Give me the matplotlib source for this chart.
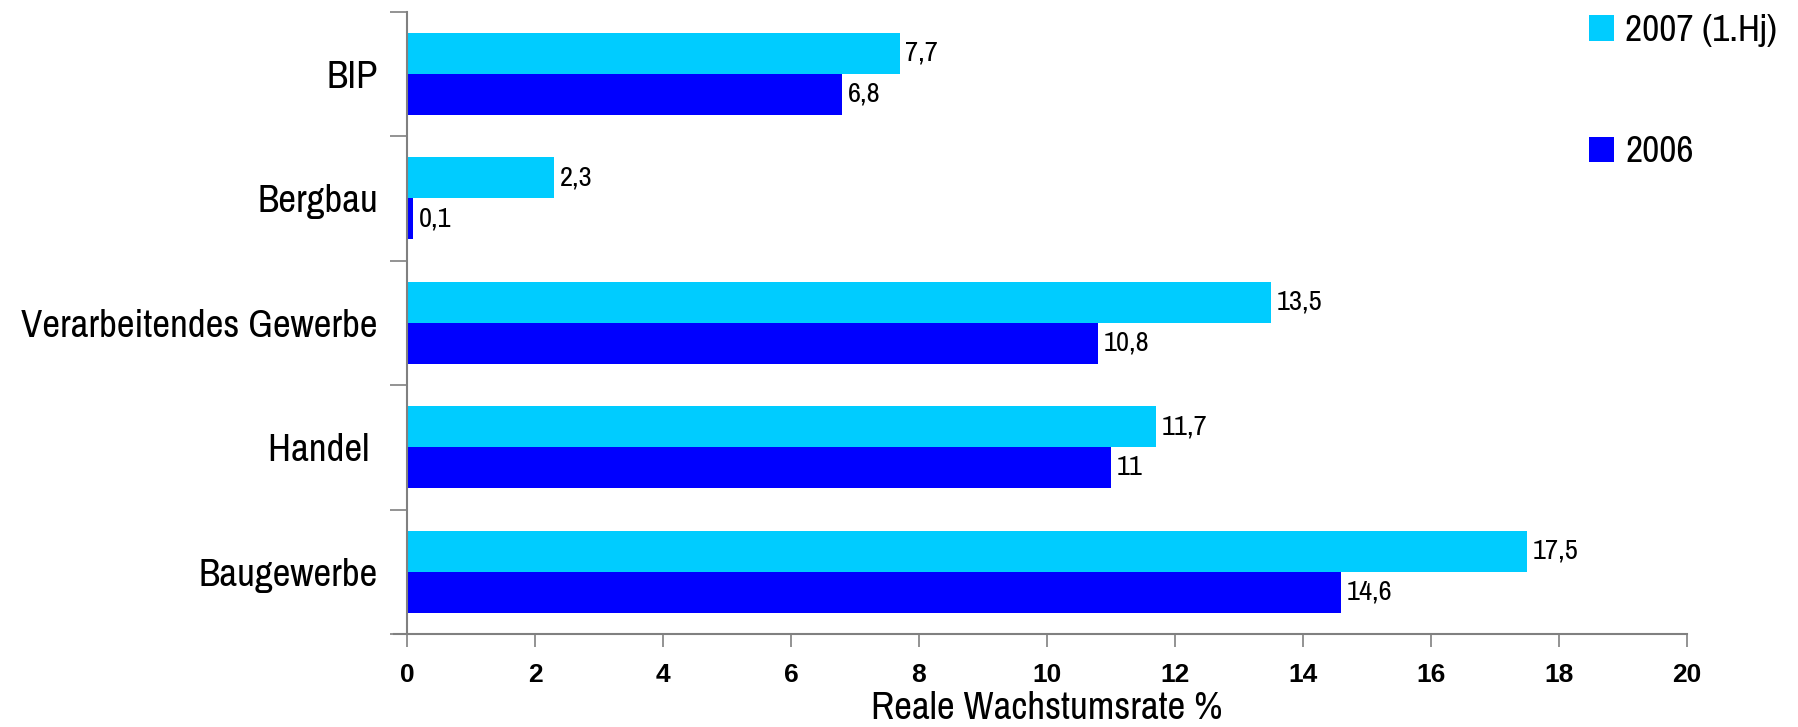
import matplotlib
matplotlib.use('Agg')
import matplotlib.pyplot as plt
import numpy as np

# Data
categories = ['BIP', 'Bergbau', 'Verarbeitendes Gewerbe', 'Handel ', 'Baugewerbe']
values_2007 = [7.7, 2.3, 13.5, 11.7, 17.5]
values_2006 = [6.8, 0.1, 10.8, 11.0, 14.6]
series_labels = ['2007 (1.Hj)', '2006']
x_ticks = [0, 2, 4, 6, 8, 10, 12, 14, 16, 18, 20]

# Colours / fonts
light_blue = '#00CCFF'
dark_blue = '#0000FF'
axis_grey = '#808080'
plt.rcParams['font.family'] = ['Archivo Narrow', 'DejaVu Sans']

fig = plt.figure(figsize=(17.98, 7.27), dpi=100)
ax = fig.add_axes([407 / 1798, 1 - 634 / 727, (1687 - 407) / 1798, (634 - 11.5) / 727])

y = np.arange(len(categories))
h = 0.33
bars_07 = ax.barh(y - h / 2, values_2007, height=h, color=light_blue, label=series_labels[0])
bars_06 = ax.barh(y + h / 2, values_2006, height=h, color=dark_blue, label=series_labels[1])

# value labels with German decimal comma
for bars, vals in [(bars_07, values_2007), (bars_06, values_2006)]:
    for b, v in zip(bars, vals):
        ax.annotate(f"{v:g}".replace('.', ','),
                    xy=(b.get_width(), b.get_y() + b.get_height() / 2),
                    xytext=(4, 0), textcoords='offset points',
                    ha='left', va='center', fontsize=20.5)

ax.set_xlim(0, 20)
ax.set_ylim(len(categories) - 0.5, -0.5)

# axes styling
for s in ['top', 'right']:
    ax.spines[s].set_visible(False)
for s in ['left', 'bottom']:
    ax.spines[s].set_color(axis_grey)
    ax.spines[s].set_linewidth(1.5)
ax.spines['bottom'].set_bounds(-0.2, 20)

ax.set_xticks(x_ticks)
ax.set_xticklabels([str(t) for t in x_ticks], fontsize=19, fontweight='bold',
                   family=['Liberation Sans', 'DejaVu Sans'])
ax.tick_params(axis='x', direction='out', length=9, width=1.2, color=axis_grey, pad=12)

ax.set_yticks(y)
ax.set_yticklabels(categories, fontsize=28)
ax.set_yticks(np.arange(-0.5, len(categories)), minor=True)
ax.tick_params(axis='y', which='major', length=0, pad=21)
ax.tick_params(axis='y', which='minor', direction='out', length=12, width=1.2, color=axis_grey)

ax.set_xlabel('Reale Wachstumsrate %', fontsize=28, va='center')
ax.xaxis.set_label_coords(0.5, -0.12)

# legend in the top right corner
ax.legend(loc='upper left', bbox_to_anchor=(1589 / 1798, 1 - 14 / 727),
          bbox_transform=fig.transFigure, frameon=False, fontsize=27,
          handlelength=0.67, handleheight=0.67, handletextpad=0.3,
          labelspacing=2.36, borderpad=0, borderaxespad=0)

plt.savefig('out.png', dpi=100, facecolor='white')
